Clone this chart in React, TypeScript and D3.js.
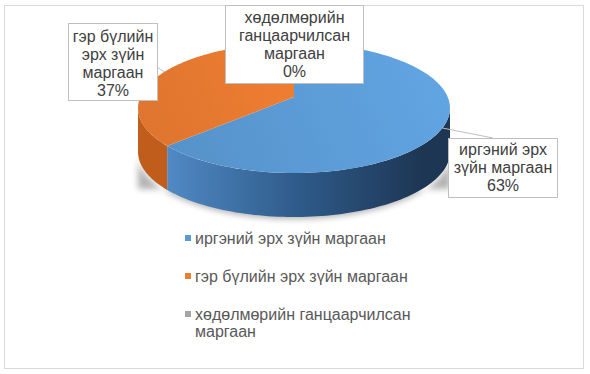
import React from 'react';
import * as d3 from 'd3';

const categories = [
  'иргэний эрх зүйн маргаан',
  'гэр бүлийн эрх зүйн маргаан',
  'хөдөлмөрийн ганцаарчилсан маргаан',
];
const values = [63, 37, 0];
const colors = ['#5b9bd5', '#ed7d31', '#a5a5a5'];
const sideColors = [
  ['#5089c4', '#2e5a89', '#1d3654'],
  ['#c05d1c', '#cc6620', '#c8631f'],
  ['#8a8a8a', '#7a7a7a', '#6a6a6a'],
];
// data label lines, one list per category
const labelLines = [
  ['иргэний эрх', 'зүйн маргаан'],
  ['гэр бүлийн', 'эрх зүйн', 'маргаан'],
  ['хөдөлмөрийн', 'ганцаарчилсан', 'маргаан'],
];
const legendLines = [
  ['иргэний эрх зүйн маргаан'],
  ['гэр бүлийн эрх зүйн маргаан'],
  ['хөдөлмөрийн ганцаарчилсан', 'маргаан'],
];

const width = 590;
const height = 374;
// perspective projection of the pie disc
const cx = 294;
const apexY = 97;
const sx = 153.7;
const sy = 63.1;
const k = 0.17;
const depth = 44;
const font = '"Liberation Sans", Arial, sans-serif';

const pt = (a: number, dy = 0): [number, number] => {
  const X = Math.sin(a);
  const Y = -Math.cos(a);
  const w = 1 - k * Y;
  return [cx + (sx * X) / w, apexY + (sy * Y) / w + dy];
};

const arcPoints = (a0: number, a1: number, dy = 0) => {
  const n = Math.max(2, Math.ceil(((a1 - a0) / (2 * Math.PI)) * 240));
  return d3.range(n + 1).map((i) => pt(a0 + ((a1 - a0) * i) / n, dy));
};

const line = d3.line();

const App = () => {
  const pie = d3.pie<number>().sort(null)(values);
  const total = d3.sum(values);
  const pct = (v: number) => d3.format('.0%')(v / total);

  const boxes = [
    { x: 448, y: 138, w: 109, h: 59, anchor: [493, 138] },
    { x: 68, y: 23, w: 89, h: 77, anchor: [157, 67] },
    { x: 225, y: 5, w: 138, h: 78, anchor: null },
  ];
  const leaderAngles = [Math.PI * 0.65, Math.PI * 1.64, 0];

  const edge = Math.acos(-k);
  const walls = pie.map((d, i) => {
    const a0 = Math.max(d.startAngle, edge);
    const a1 = Math.min(d.endAngle, 2 * Math.PI - edge);
    if (a1 <= a0) return null;
    const top = arcPoints(a0, a1);
    const bottom = arcPoints(a0, a1, depth).reverse();
    return (
      <path
        key={'w' + i}
        d={line([...top, ...bottom]) + 'Z'}
        fill={`url(#side${i})`}
      />
    );
  });

  const tops = pie.map((d, i) => {
    if (d.endAngle - d.startAngle <= 0) return null;
    const pts: [number, number][] = [[cx, apexY], ...arcPoints(d.startAngle, d.endAngle)];
    return <path key={'t' + i} d={line(pts) + 'Z'} fill={`url(#top${i})`} />;
  });

  const front = pt(Math.PI, depth);
  const shadow = arcPoints(edge, 2 * Math.PI - edge, depth);

  return (
    <svg width={width} height={height} style={{ position: 'absolute', left: 0, top: 0 }}>
      <defs>
        {sideColors.map((c, i) => (
          <linearGradient key={i} id={`side${i}`} gradientUnits="userSpaceOnUse" x1={cx - sx} x2={cx + sx} y1={0} y2={0}>
            <stop offset="9%" stopColor={c[0]} />
            <stop offset="52%" stopColor={c[1]} />
            <stop offset="92%" stopColor={c[2]} />
          </linearGradient>
        ))}
        {colors.map((c, i) => (
          <linearGradient key={i} id={`top${i}`} gradientUnits="userSpaceOnUse" x1={cx - sx} y1={apexY + sy} x2={cx + sx} y2={apexY - sy}>
            <stop offset="0%" stopColor={d3.color(c)!.darker(0.2).toString()} />
            <stop offset="100%" stopColor={d3.color(c)!.brighter(0.2).toString()} />
          </linearGradient>
        ))}
        <filter id="blur" x="-20%" y="-50%" width="140%" height="200%">
          <feGaussianBlur stdDeviation="3" />
        </filter>
      </defs>
      <rect x={4.5} y={5.5} width={579} height={363} fill="#fff" stroke="#d9d9d9" />
      <path
        d={line([...shadow, [shadow[shadow.length - 1][0], front[1] - 30], [shadow[0][0], front[1] - 30]]) + 'Z'}
        transform="translate(0,2)"
        fill="#000"
        opacity={0.3}
        filter="url(#blur)"
      />
      {walls}
      {tops}

      {pie.map((d, i) => {
        const b = boxes[i];
        const lines = [...labelLines[i], pct(d.value)];
        const lh = 18;
        const y0 = b.y + b.h / 2 - ((lines.length - 1) * lh) / 2 + (i === 1 ? 1.5 : 0);
        const from = pt(leaderAngles[i]);
        return (
          <g key={'l' + i}>
            {b.anchor && (
              <polyline
                points={`${from[0]},${from[1]} ${b.anchor[0]},${b.anchor[1]}`}
                fill="none"
                stroke="#bfbfbf"
              />
            )}
            <rect x={b.x + 0.5} y={b.y + 0.5} width={b.w} height={b.h} fill="#fff" stroke="#bfbfbf" />
            {lines.map((t, j) => (
              <text
                key={j}
                x={b.x + b.w / 2 + 0.5}
                y={y0 + j * lh}
                dy="0.35em"
                textAnchor="middle"
                fontFamily={font}
                fontSize={16}
                fill="#404040"
              >
                {t}
              </text>
            ))}
          </g>
        );
      })}

      {categories.map((c, i) => {
        const y = 238 + i * 38;
        return (
          <g key={'g' + i}>
            <rect x={185} y={y - 3} width={6} height={6} fill={colors[i]} />
            {legendLines[i].map((t, j) => (
              <text
                key={j}
                x={195}
                y={y + j * 17}
                dy="0.35em"
                fontFamily={font}
                fontSize={16}
                fill="#595959"
              >
                {t}
              </text>
            ))}
          </g>
        );
      })}
    </svg>
  );
};

export default App;
